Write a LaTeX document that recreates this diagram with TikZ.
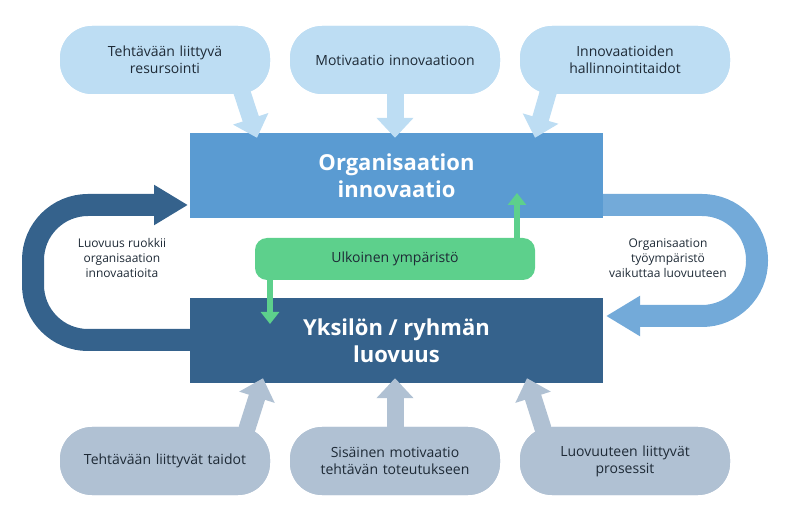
\documentclass[tikz,border=0pt]{standalone}
\usepackage{fontspec}
\setmainfont{Open Sans}
\usetikzlibrary{arrows.meta, positioning}
\definecolor{pilltop}{HTML}{BDDDF3}
\definecolor{pillbot}{HTML}{B0C1D3}
\definecolor{boxtop}{HTML}{5A9BD2}
\definecolor{boxbot}{HTML}{35628C}
\definecolor{greenbox}{HTML}{5DD08C}
\definecolor{txt}{HTML}{1E2A36}
\tikzset{
  pill/.style={rounded corners=32pt, minimum width=210pt, minimum height=68pt, text width=195pt, align=center, font=\fontsize{14}{17}\selectfont, text=txt},
  mainbox/.style={minimum width=413pt, minimum height=85pt, align=center, text=white, font=\bfseries\fontsize{22}{27}\selectfont},
  feed/.style={line width=17pt, -{Triangle[length=20pt, width=36pt]}},
  loop/.style={line width=22pt, rounded corners=55pt, -{Triangle[length=34pt, width=38pt]}},
  side/.style={align=center, font=\fontsize{12}{15}\selectfont, text=txt}
}
\begin{document}
\begin{tikzpicture}[x=1pt, y=-1pt]
  \useasboundingbox (0,0) rectangle (790,518);
  % main boxes
  \node (org) [mainbox, fill=boxtop] at (396.5,175.5) {Organisaation\\innovaatio};
  \node (ind) [mainbox, fill=boxbot] at (396.5,340.5) {Yksilön / ryhmän\\luovuus};
  % loops
  \draw[loop, draw=boxbot] (ind.west |- 0,340) -- (33,340) -- (33,205) -- (188,205);
  \draw[loop, draw=boxtop!85!white] (org.east |- 0,205) -- (757,205) -- (757,316) -- (606,316);
  % upper pills and arrows
  \node (t1) [pill, fill=pilltop] at (165,60) {Tehtävään liittyvä\\resursointi};
  \node (t2) [pill, fill=pilltop] at (395,60) {Motivaatio innovaatioon};
  \node (t3) [pill, fill=pilltop] at (625,60) {Innovaatioiden\\hallinnointitaidot};
  \draw[feed, draw=pilltop] ([xshift=75pt,yshift=8pt]t1.south) -- ([xshift=92pt,yshift=-5pt]t1.south |- org.north);
  \draw[feed, draw=pilltop] ([yshift=8pt]t2.south) -- ([yshift=-5pt]t2.south |- org.north);
  \draw[feed, draw=pilltop] ([xshift=-75pt,yshift=8pt]t3.south) -- ([xshift=-90pt,yshift=-5pt]t3.south |- org.north);
  \node [pill, fill=pilltop] at (t1) {Tehtävään liittyvä\\resursointi};
  \node [pill, fill=pilltop] at (t2) {Motivaatio innovaatioon};
  \node [pill, fill=pilltop] at (t3) {Innovaatioiden\\hallinnointitaidot};
  % lower pills and arrows
  \node (b1) [pill, fill=pillbot] at (165,461) {Tehtävään liittyvät taidot};
  \node (b2) [pill, fill=pillbot] at (395,461) {Sisäinen motivaatio\\tehtävän toteutukseen};
  \node (b3) [pill, fill=pillbot] at (625,461) {Luovuuteen liittyvät\\prosessit};
  \draw[feed, draw=pillbot] ([xshift=80pt,yshift=-8pt]b1.north) -- ([xshift=98pt,yshift=5pt]b1.north |- ind.south);
  \draw[feed, draw=pillbot] ([yshift=-8pt]b2.north) -- ([yshift=5pt]b2.north |- ind.south);
  \draw[feed, draw=pillbot] ([xshift=-80pt,yshift=-8pt]b3.north) -- ([xshift=-98pt,yshift=5pt]b3.north |- ind.south);
  \node [pill, fill=pillbot] at (b1) {Tehtävään liittyvät taidot};
  \node [pill, fill=pillbot] at (b2) {Sisäinen motivaatio\\tehtävän toteutukseen};
  \node [pill, fill=pillbot] at (b3) {Luovuuteen liittyvät\\prosessit};
  % environment
  \node (env) [fill=greenbox, rounded corners=12pt, minimum width=280pt, minimum height=42pt, font=\fontsize{14}{17}\selectfont, text=txt] at (395,259) {Ulkoinen ympäristö};
  \draw[line width=6pt, draw=greenbox, -{Triangle[length=12pt, width=18pt]}] ([xshift=122pt]env.north) -- ([xshift=122pt]env.north |- 0,193);
  \draw[line width=6pt, draw=greenbox, -{Triangle[length=12pt, width=18pt]}] ([xshift=-125pt]env.south) -- ([xshift=-125pt]env.south |- 0,324);
  % side labels
  \node (l1) [side] at (122,258) {Luovuus ruokkii\\organisaation\\innovaatioita};
  \node (l2) [side] at (668,258) {Organisaation\\työympäristö\\vaikuttaa luovuuteen};
\end{tikzpicture}
\end{document}
